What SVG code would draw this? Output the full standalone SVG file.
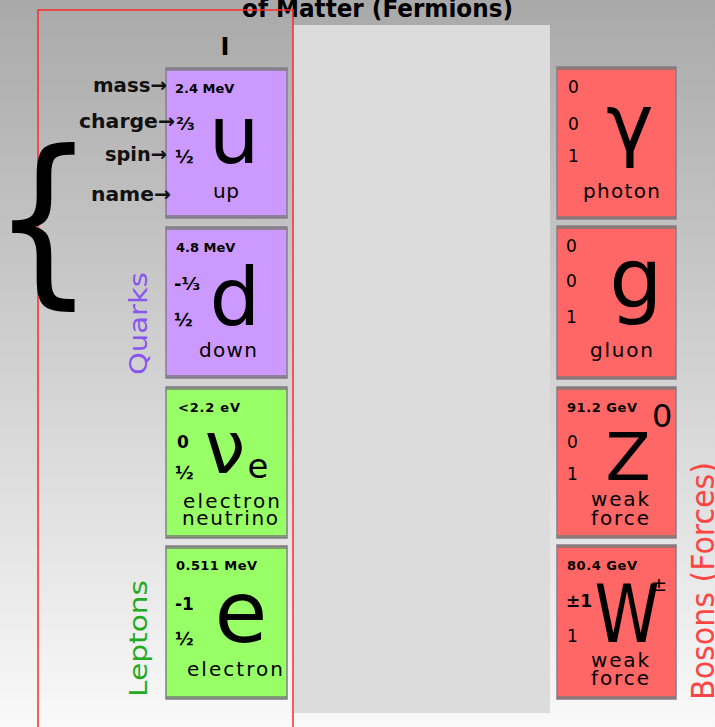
<svg xmlns="http://www.w3.org/2000/svg" width="715" height="727" viewBox="0 0 715 727">
<defs>
<linearGradient id="bg" x1="0" y1="0" x2="0" y2="1">
<stop offset="0" stop-color="#a9a9a9"/>
<stop offset="1" stop-color="#f9f9f9"/>
</linearGradient>
</defs>
<style>
text{font-family:"DejaVu Sans","Liberation Sans",sans-serif;fill:#000}
.q{fill:#cc99ff}
.l{fill:#99ff66}
.b{fill:#ff6666}
.box{stroke:#857d8a;stroke-width:1.5}
.bar{fill:#7a7a7a;fill-opacity:0.75}
.lbl{font-weight:bold;font-size:20px;fill:#111}
.mass{font-weight:bold;font-size:13px}
.frac{font-weight:bold;font-size:18px}
.num{font-size:17px}
.big{font-size:80px;text-anchor:middle}
.name{font-size:20px}
.grp{font-size:25px}
</style>
<rect x="0" y="0" width="715" height="727" fill="url(#bg)"/>
<text x="242" y="17" font-weight="bold" font-size="24" fill="#1a1a1a" textLength="271" lengthAdjust="spacingAndGlyphs">of Matter (Fermions)</text>
<rect x="293" y="25" width="257" height="688" fill="#dcdcdc"/>
<rect x="38" y="10" width="255" height="730" fill="none" stroke="#ff2a2a" stroke-width="1.5"/>
<text x="225" y="55" font-size="24" font-weight="bold" text-anchor="middle">I</text>
<text x="0" y="0" font-size="190" transform="translate(-8,282) scale(0.85,0.97)">{</text>
<g id="quarks-label"><text class="grp" transform="translate(147,375) rotate(-90)" style="fill:#8855ee" textLength="103" lengthAdjust="spacingAndGlyphs">Quarks</text></g>
<g id="leptons-label"><text class="grp" transform="translate(147,697) rotate(-90)" style="fill:#22aa22" textLength="117" lengthAdjust="spacingAndGlyphs">Leptons</text></g>
<g id="bosons-label"><text transform="translate(714,700) rotate(-90)" font-size="32" style="fill:#ff4444" textLength="238" lengthAdjust="spacingAndGlyphs">Bosons (Forces)</text></g>

<g id="up">
<rect class="q box" x="166" y="68" width="121" height="150"/>
<rect class="bar" x="166" y="68" width="121" height="3"/><rect class="bar" x="166" y="215" width="121" height="3"/>
<text class="mass" x="175" y="93">2.4 MeV</text>
<text class="frac" x="176" y="130">⅔</text>
<text class="frac" x="175" y="163">½</text>
<text class="big" x="234" y="163">u</text>
<text class="name" x="226" y="198" text-anchor="middle" textLength="26">up</text>
</g>
<g id="down">
<rect class="q box" x="166" y="227" width="121" height="151"/>
<rect class="bar" x="166" y="227" width="121" height="3"/><rect class="bar" x="166" y="375" width="121" height="3"/>
<text class="mass" x="176" y="252">4.8 MeV</text>
<text class="frac" x="174" y="290">-⅓</text>
<text class="frac" x="174" y="326">½</text>
<text class="big" x="235" y="325">d</text>
<text class="name" x="228" y="357" text-anchor="middle" textLength="58">down</text>
</g>
<g id="electron-neutrino">
<rect class="l box" x="166" y="387" width="121" height="151"/>
<rect class="bar" x="166" y="387" width="121" height="3"/><rect class="bar" x="166" y="535" width="121" height="3"/>
<text class="mass" x="178" y="412" textLength="62">&lt;2.2 eV</text>
<text class="num" x="177" y="448" font-weight="bold">0</text>
<text class="frac" x="175" y="479">½</text>
<text x="225" y="473" font-size="73" text-anchor="middle">ν</text>
<text x="258" y="478" font-size="34" text-anchor="middle">e</text>
<text class="name" x="183" y="508" textLength="97">electron</text>
<text class="name" x="182" y="525" textLength="96">neutrino</text>
</g>
<g id="electron">
<rect class="l box" x="166" y="546" width="121" height="153"/>
<rect class="bar" x="166" y="546" width="121" height="3"/><rect class="bar" x="166" y="696" width="121" height="3"/>
<text class="mass" x="176" y="570" textLength="81">0.511 MeV</text>
<text class="num" x="175" y="610" font-weight="bold">-1</text>
<text class="frac" x="175" y="645">½</text>
<text class="big" x="241" y="642" style="font-size:86px">e</text>
<text class="name" x="187" y="676" textLength="96">electron</text>
</g>

<g id="photon">
<rect class="b box" x="557" y="67" width="119" height="152"/>
<rect class="bar" x="557" y="67" width="119" height="3"/><rect class="bar" x="557" y="216" width="119" height="3"/>
<text class="num" x="568" y="93">0</text>
<text class="num" x="568" y="130">0</text>
<text class="num" x="568" y="162">1</text>
<text class="big" x="630" y="151">γ</text>
<text class="name" x="583" y="198" textLength="77">photon</text>
</g>
<g id="gluon">
<rect class="b box" x="557" y="226" width="119" height="153"/>
<rect class="bar" x="557" y="226" width="119" height="3"/><rect class="bar" x="557" y="376" width="119" height="3"/>
<text class="num" x="566" y="252">0</text>
<text class="num" x="566" y="287">0</text>
<text class="num" x="566" y="323">1</text>
<text class="big" x="636" y="308" style="font-size:84px">g</text>
<text class="name" x="590" y="357" textLength="63">gluon</text>
</g>
<g id="z-boson">
<rect class="b box" x="557" y="387" width="119" height="151"/>
<rect class="bar" x="557" y="387" width="119" height="3"/><rect class="bar" x="557" y="535" width="119" height="3"/>
<text class="mass" x="567" y="412" textLength="70">91.2 GeV</text>
<text x="652" y="427" font-size="32">0</text>
<text class="num" x="567" y="448">0</text>
<text class="num" x="567" y="480">1</text>
<text class="big" x="628" y="480" style="font-size:66px">Z</text>
<text class="name" x="591" y="506" textLength="58">weak</text>
<text class="name" x="591" y="525" textLength="58">force</text>
</g>
<g id="w-boson">
<rect class="b box" x="557" y="545" width="119" height="154"/>
<rect class="bar" x="557" y="545" width="119" height="3"/><rect class="bar" x="557" y="696" width="119" height="3"/>
<text class="mass" x="567" y="570" textLength="70">80.4 GeV</text>
<text x="659" y="591" font-size="20" text-anchor="middle">±</text>
<text class="num" x="566" y="607" font-weight="bold">±1</text>
<text class="num" x="567" y="642">1</text>
<text class="big" x="627" y="642" textLength="65" lengthAdjust="spacingAndGlyphs">W</text>
<text class="name" x="591" y="667" textLength="58">weak</text>
<text class="name" x="591" y="685" textLength="58">force</text>
</g>
<g id="legend">
<text class="lbl" x="93" y="92" textLength="74" lengthAdjust="spacingAndGlyphs">mass→</text>
<text class="lbl" x="79" y="128" textLength="96" lengthAdjust="spacingAndGlyphs">charge→</text>
<text class="lbl" x="105" y="161" textLength="62" lengthAdjust="spacingAndGlyphs">spin→</text>
<text class="lbl" x="91" y="201" textLength="80" lengthAdjust="spacingAndGlyphs">name→</text>
</g>
</svg>
